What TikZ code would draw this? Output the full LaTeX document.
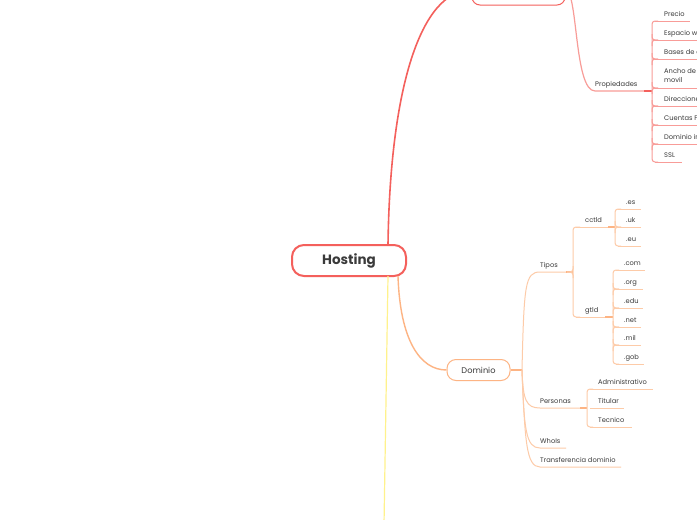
\documentclass[tikz,border=0pt]{standalone}
\usepackage{fontspec}
\setmainfont{Poppins}
\definecolor{hred}{HTML}{F4605C}
\definecolor{lred}{HTML}{F89C98}
\definecolor{horg}{HTML}{FDB484}
\definecolor{lorg}{HTML}{FDCBA8}
\definecolor{hyel}{HTML}{FFF28C}
\definecolor{txt}{HTML}{3A3A3A}
\begin{document}
\begin{tikzpicture}[x=1pt,y=-1pt,
  lbl/.style={font=\fontsize{6.7}{7.5}\selectfont, text=txt, inner sep=0pt, anchor=base west},
  hostbox/.style={draw=hred, line width=2pt, fill=white, rounded corners=12pt, minimum width=114pt, minimum height=31pt, inner sep=0pt, font=\fontsize{13.5}{15}\selectfont\bfseries, text=txt},
  topbox/.style={draw=hred, line width=1pt, fill=white, rounded corners=8pt, minimum width=93pt, minimum height=30pt, inner sep=0pt},
  dombox/.style={draw=horg, line width=1pt, fill=white, rounded corners=9pt, minimum width=63pt, minimum height=21pt, inner sep=0pt, font=\fontsize{8.2}{9}\selectfont, text=txt},
  redmain/.style={draw=hred, line width=1.6pt},
  redsub/.style={draw=lred, line width=1pt},
  orgmain/.style={draw=horg, line width=1.4pt},
  orgsub/.style={draw=lorg, line width=1pt},
  yelmain/.style={draw=hyel, line width=1.2pt}]
\clip (0,0) rectangle (697,520);
\fill[white] (0,0) rectangle (697,520);

% main nodes
\node[hostbox] (hosting) at (349,260.5) {Hosting};
\node[topbox] (top) at (518.5,-10) {};
\node[dombox] (dominio) at (478.5,370) {Dominio};

% main connectors
\coordinate (hA) at (388,245);
\coordinate (hB) at (398,276);
\coordinate (hC) at (388,276);
\draw[redmain] (hA) .. controls (390,90) and (420,-10) .. (top.west);
\draw[orgmain] (hB) .. controls (400,340) and (420,370) .. (dominio.west);
\coordinate (yEnd) at (384,525);
\draw[yelmain] (hC) -- (yEnd);

% ---------- Propiedades ----------
\node[lbl] (prop) at (595,86) {Propiedades};
\draw[redsub, line width=1.2pt] (top.east) .. controls (578,-10) and (574,91) .. (595,91) -- (645,91);
\draw[hred, line width=2pt] (644,91) -- (652,91);
\foreach \y in {40,59,88,106,125,144} {
  \draw[redsub, rounded corners=3pt] (652,\y-6) -- (652,\y) -- (658,\y);
  \draw[redsub, rounded corners=3pt] (652,\y+6) -- (652,\y) -- (658,\y);
}
\draw[redsub, rounded corners=3pt] (658,21) -- (652,21) -- (652,162) -- (658,162);
\node[lbl] (precio) at (664,16) {Precio};
\draw[redsub] (655,21) -- (690,21);
\node[lbl] (espacio) at (664,35) {Espacio web};
\draw[redsub] (655,40) -- (700,40);
\node[lbl] (bases) at (664,54) {Bases de datos};
\draw[redsub] (655,59) -- (700,59);
\node[lbl] (ancho) at (664,73.5) {Ancho de banda};
\node[lbl] (movil) at (664,82.5) {movil};
\draw[redsub] (655,88) -- (700,88);
\node[lbl] (direc) at (664,101) {Direcciones de correo};
\draw[redsub] (655,106) -- (700,106);
\node[lbl] (cuentas) at (664,120) {Cuentas FTP};
\draw[redsub] (655,125) -- (700,125);
\node[lbl] (domi) at (664,139) {Dominio incluido};
\draw[redsub] (655,144) -- (700,144);
\node[lbl] (ssl) at (664,157) {SSL};
\draw[redsub] (655,162) -- (682,162);

% ---------- Dominio branches ----------
\coordinate (dJ) at (522,370);
\draw[horg, line width=2pt] (dominio.east) -- (dJ);
\node[lbl] (tipos) at (540,267) {Tipos};
\draw[orgsub] (dJ) .. controls (524,285) and (525,272) .. (540,272) -- (567,272);
\draw[horg, line width=1.6pt] (566,272) -- (573,272);
\node[lbl] (personas) at (540,403) {Personas};
\draw[orgsub] (dJ) .. controls (523,400) and (526,408) .. (540,408) -- (581,408);
\draw[horg, line width=1.6pt] (580,408) -- (587,408);
\node[lbl] (whois) at (540,443) {WhoIs};
\draw[orgsub] (dJ) .. controls (524,430) and (526,448) .. (540,448) -- (566,448);
\node[lbl] (transf) at (540,462) {Transferencia dominio};
\draw[orgsub] (dJ) .. controls (525,440) and (526,467) .. (540,467) -- (621,467);

% Tipos bracket
\draw[orgsub, rounded corners=3pt] (580,227) -- (573,227) -- (573,317) -- (580,317);
\draw[orgsub, rounded corners=3pt] (573,266) -- (573,272) -- (567,272);
\draw[orgsub, rounded corners=3pt] (573,278) -- (573,272) -- (567,272);
\node[lbl] (cctld) at (585,222) {cctld};
\draw[orgsub] (576,227) -- (609,227);
\draw[horg, line width=1.6pt] (608,227) -- (615,227);
\node[lbl] (gtld) at (585,312) {gtld};
\draw[orgsub] (576,317) -- (606,317);
\draw[horg, line width=1.6pt] (605,317) -- (613,317);

% cctld bracket
\draw[orgsub, rounded corners=3pt] (621,209) -- (615,209) -- (615,246) -- (621,246);
\draw[orgsub, rounded corners=3pt] (615,221) -- (615,227) -- (621,227);
\draw[orgsub, rounded corners=3pt] (615,233) -- (615,227) -- (621,227);
\node[lbl] (es) at (626,204) {.es};
\draw[orgsub] (618,209) -- (641,209);
\node[lbl] (uk) at (626,222) {.uk};
\draw[orgsub] (618,227) -- (641,227);
\node[lbl] (eu) at (626,241) {.eu};
\draw[orgsub] (618,246) -- (641,246);

% gtld bracket
\draw[orgsub, rounded corners=3pt] (619,270) -- (613,270) -- (613,364) -- (619,364);
\foreach \y in {289,308,327,345} {
  \draw[orgsub, rounded corners=3pt] (613,\y-6) -- (613,\y) -- (619,\y);
  \draw[orgsub, rounded corners=3pt] (613,\y+6) -- (613,\y) -- (619,\y);
}
\node[lbl] (com) at (624,265) {.com};
\draw[orgsub] (616,270) -- (645,270);
\node[lbl] (org) at (624,284) {.org};
\draw[orgsub] (616,289) -- (643,289);
\node[lbl] (edu) at (624,303) {.edu};
\draw[orgsub] (616,308) -- (643,308);
\node[lbl] (net) at (624,322) {.net};
\draw[orgsub] (616,327) -- (641,327);
\node[lbl] (mil) at (624,340) {.mil};
\draw[orgsub] (616,345) -- (641,345);
\node[lbl] (gob) at (624,359) {.gob};
\draw[orgsub] (616,364) -- (644,364);

% Personas bracket
\draw[orgsub, rounded corners=3pt] (593,389) -- (587,389) -- (587,427) -- (593,427);
\node[lbl] (admin) at (598,384) {Administrativo};
\draw[orgsub] (590,389) -- (653,389);
\node[lbl] (titular) at (598,403) {Titular};
\draw[orgsub] (590,408) -- (624,408);
\node[lbl] (tecnico) at (598,422) {Tecnico};
\draw[orgsub] (590,427) -- (632,427);
\end{tikzpicture}
\end{document}
